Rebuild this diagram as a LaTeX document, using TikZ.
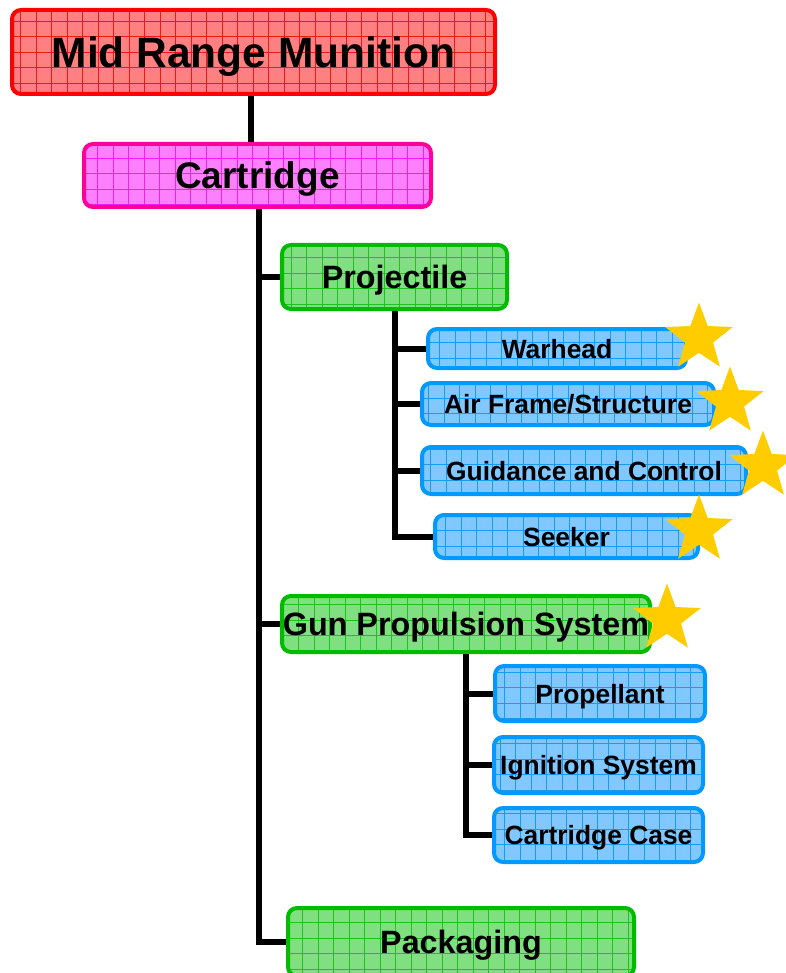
\documentclass[tikz,border=0pt]{standalone}
\usepackage{fontspec}
\setmainfont{Liberation Sans}
\usetikzlibrary{shapes.geometric}
\definecolor{redL}{HTML}{FF0000}
\definecolor{redF}{HTML}{FF8080}
\definecolor{redG}{HTML}{F01818}
\definecolor{magL}{HTML}{FF0099}
\definecolor{magF}{HTML}{FF80FF}
\definecolor{magG}{HTML}{F020F0}
\definecolor{grnL}{HTML}{00BB00}
\definecolor{grnF}{HTML}{80DF80}
\definecolor{grnG}{HTML}{20C020}
\definecolor{bluL}{HTML}{0099FF}
\definecolor{bluF}{HTML}{80C8FF}
\definecolor{bluG}{HTML}{1A9AF0}
\definecolor{starY}{HTML}{FFCC00}
\tikzset{
  gbox/.style n args={3}{draw=#1, fill=#2, line width=4pt, rounded corners=9pt,
    inner sep=0pt, text=black, text depth=0pt,
    path picture={\draw[#3, line width=0.55pt, step=15.5pt, sharp corners]
      (path picture bounding box.south west) grid (path picture bounding box.north east);}},
  redbox/.style={gbox={redL}{redF}{redG}, font=\fontsize{42.5}{48}\selectfont\bfseries},
  magbox/.style={gbox={magL}{magF}{magG}, font=\fontsize{37}{42}\selectfont\bfseries},
  grnbox/.style={gbox={grnL}{grnF}{grnG}, font=\fontsize{32.3}{37}\selectfont\bfseries},
  blubox/.style={gbox={bluL}{bluF}{bluG}, font=\fontsize{26.4}{30}\selectfont\bfseries},
  conn/.style={draw=black, line width=6pt, line join=miter},
  ystar/.style={star, star points=5, star point ratio=2.4, fill=starY, draw=none,
    minimum size=71pt, inner sep=0pt},
}
\begin{document}
\begin{tikzpicture}[x=1pt, y=-1pt]
\useasboundingbox (0,0) rectangle (785,973);
\coordinate (t1) at (251,0);
\coordinate (t2) at (259,0);
% boxes
\node[redbox, minimum width=483pt, minimum height=84pt] (title) at (253.5,52) {Mid Range Munition};
\node[magbox, minimum width=347pt, minimum height=63pt] (cart) at (257.5,175.5) {Cartridge};
\node[grnbox, minimum width=225pt, minimum height=64pt] (proj) at (394.5,277) {Projectile};
\node[blubox, minimum width=258pt, minimum height=39pt] (war) at (557,348.5) {Warhead};
\node[blubox, minimum width=292pt, minimum height=42pt] (air) at (568,404) {Air Frame/Structure};
\node[blubox, minimum width=324pt, minimum height=47pt] (guid) at (584,470.5) {Guidance and Control};
\node[blubox, minimum width=263pt, minimum height=43pt] (seek) at (566.5,536.5) {Seeker};
\node[grnbox, minimum width=368pt, minimum height=56pt] (gun) at (466,624) {Gun Propulsion System};
\node[blubox, minimum width=210pt, minimum height=55pt] (prop) at (600,693.5) {Propellant};
\node[blubox, minimum width=209pt, minimum height=56pt] (ign) at (598.5,765) {Ignition System};
\node[blubox, minimum width=209pt, minimum height=54pt] (case) at (598.5,835) {Cartridge Case};
\node[grnbox, minimum width=346pt, minimum height=68pt] (pack) at (461,942) {Packaging};
% connectors
\draw[conn] (title.south -| t1) -- (cart.north -| t1);
\draw[conn] (cart.south -| t2) |- (pack.west);
\draw[conn] (t2 |- proj.west) -- (proj.west);
\draw[conn] (t2 |- gun.west) -- (gun.west);
\draw[conn] (proj.south) |- (seek.west);
\draw[conn] (proj.south |- war.west) -- (war.west);
\draw[conn] (proj.south |- air.west) -- (air.west);
\draw[conn] (proj.south |- guid.west) -- (guid.west);
\draw[conn] (gun.south) |- (case.west);
\draw[conn] (gun.south |- prop.west) -- (prop.west);
\draw[conn] (gun.south |- ign.west) -- (ign.west);
% stars
\node[ystar] (s1) at (699,338) {};
\node[ystar] (s2) at (730,402) {};
\node[ystar] (s3) at (763,466) {};
\node[ystar] (s4) at (699,530) {};
\node[ystar] (s5) at (667,619) {};
\end{tikzpicture}
\end{document}
